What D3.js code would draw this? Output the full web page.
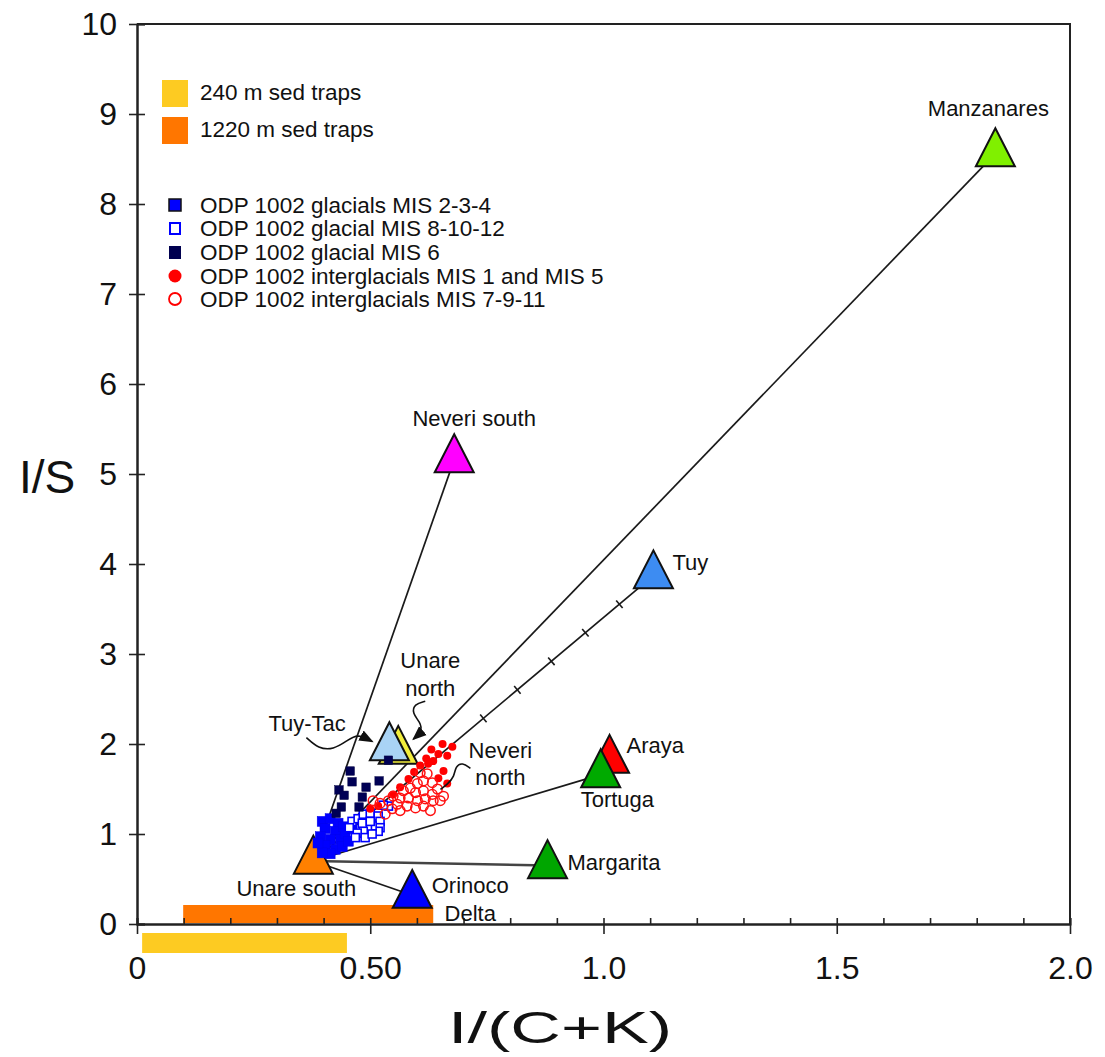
<!doctype html>
<html>
<head>
<meta charset="UTF-8">
<script src="https://cdnjs.cloudflare.com/ajax/libs/d3/7.8.5/d3.min.js"></script>
<style>
  body { margin: 0; background: #fff; }
  text { font-family: "Liberation Sans", Arial, Helvetica, sans-serif; fill: #111; }
</style>
</head>
<body>
<svg id="chart" width="1105" height="1057"></svg>
<script>

// ---------- data ----------
// river / coastal sources, I/(C+K) vs I/S
var sourceNames = ["Unare north", "Tuy-Tac", "Manzanares", "Neveri south", "Tuy",
                   "Araya", "Tortuga", "Margarita", "Orinoco Delta", "Unare south"];
var sourceX = [0.560, 0.541, 1.840, 0.680, 1.107, 1.013, 0.994, 0.880, 0.590, 0.378];
var sourceY = [1.92, 1.96, 8.56, 5.16, 3.87, 1.82, 1.66, 0.65, 0.32, 0.70];

// mixing lines from Unare south
var mixFrom = "Unare south";
var mixTo = ["Neveri south", "Manzanares", "Tuy", "Tortuga", "Margarita", "Orinoco Delta"];
var tuyTicks = [0.5, 0.6, 0.7, 0.8, 0.9];   // fraction of the way to Tuy

// sediment trap I/(C+K) ranges
var trapNames = ["240 m sed traps", "1220 m sed traps"];
var trapRanges = [[0.011, 0.450], [0.099, 0.635]];

// ODP 1002 samples
var glacial234 = [[0.397,1.14],[0.414,1.17],[0.431,1.12],[0.403,1.06],[0.425,1.03],[0.442,1.08],
  [0.393,0.97],[0.414,0.94],[0.436,0.94],[0.403,0.87],[0.425,0.83],[0.440,0.86],[0.414,0.78],
  [0.397,0.79],[0.446,1.01],[0.461,1.06],[0.388,0.90],[0.453,0.92]];
var glacial81012 = [[0.461,1.14],[0.474,1.17],[0.485,1.22],[0.500,1.23],[0.517,1.20],[0.521,1.14],
  [0.521,1.07],[0.517,1.03],[0.504,1.09],[0.494,1.07],[0.485,1.03],[0.472,1.01],[0.468,0.96],
  [0.489,0.96],[0.504,1.00],[0.483,1.12],[0.500,1.14],[0.539,1.31],[0.528,1.32],[0.455,1.07]];
var glacial6 = [[0.461,1.58],[0.491,1.52],[0.519,1.59],[0.433,1.49],[0.444,1.43],[0.483,1.41],
  [0.438,1.30],[0.476,1.30],[0.427,1.23],[0.539,1.82],[0.457,1.70]];
var inter15 = [[0.655,2.00],[0.676,1.97],[0.646,1.89],[0.665,1.87],[0.635,1.81],[0.624,1.78],
  [0.657,1.70],[0.646,1.62],[0.665,1.56],[0.631,1.94],[0.620,1.84],[0.607,1.76],[0.594,1.69],
  [0.582,1.61],[0.564,1.52],[0.549,1.44],[0.517,1.31],[0.500,1.28]];
var inter7911 = [[0.607,1.68],[0.622,1.67],[0.614,1.59],[0.601,1.56],[0.633,1.57],[0.586,1.51],
  [0.571,1.48],[0.597,1.46],[0.614,1.48],[0.633,1.44],[0.650,1.37],[0.635,1.37],[0.618,1.39],
  [0.601,1.37],[0.582,1.40],[0.564,1.40],[0.549,1.42],[0.539,1.37],[0.558,1.33],[0.579,1.31],
  [0.597,1.29],[0.614,1.31],[0.629,1.26],[0.564,1.26],[0.547,1.28],[0.532,1.22],[0.644,1.50],
  [0.657,1.42],[0.521,1.34],[0.506,1.37]];
var odpNames = ["ODP 1002 glacials MIS 2-3-4", "ODP 1002 glacial MIS 8-10-12", "ODP 1002 glacial MIS 6",
                "ODP 1002 interglacials MIS 1 and MIS 5", "ODP 1002 interglacials MIS 7-9-11"];

var xTickValues = [0, 0.5, 1.0, 1.5, 2.0];
var xTickLabels = ["0", "0.50", "1.0", "1.5", "2.0"];
var xMinorTicks = [0,0.1,0.2,0.3,0.4,0.5,0.6,0.7,0.8,0.9,1.0,1.1,1.2,1.3,1.4,1.5,1.6,1.7,1.8,1.9,2.0];
var yTickValues = [0,1,2,3,4,5,6,7,8,9,10];

// ---------- styles ----------
var sourceFill = {
  "Unare north": "#f2ee3c", "Tuy-Tac": "#a9d3f5", "Manzanares": "#80f000", "Neveri south": "#ff00ff",
  "Tuy": "#3d8cf2", "Araya": "#ff0000", "Tortuga": "#00aa00", "Margarita": "#00a600",
  "Orinoco Delta": "#0000ff", "Unare south": "#ff8000"
};
// label placement relative to triangle centre (px)
var labelPos = {
  "Manzanares":    {dx: -7,  dy: [-38], anchor: "middle", lines: ["Manzanares"]},
  "Neveri south":  {dx: 20,  dy: [-34], anchor: "middle", lines: ["Neveri south"]},
  "Tuy":           {dx: 19,  dy: [-6],  anchor: "start",  lines: ["Tuy"]},
  "Araya":         {dx: 17,  dy: [-7],  anchor: "start",  lines: ["Araya"]},
  "Tortuga":       {dx: -20, dy: [32],  anchor: "start",  lines: ["Tortuga"]},
  "Margarita":     {dx: 20,  dy: [4],   anchor: "start",  lines: ["Margarita"]},
  "Orinoco Delta": {dx: 58,  dy: [-2, 26], anchor: "middle", lines: ["Orinoco", "Delta"]},
  "Unare south":   {dx: -17, dy: [35],  anchor: "middle", lines: ["Unare south"]},
  "Tuy-Tac":       {dx: -121, dy: [-17], anchor: "start", lines: ["Tuy-Tac"]},
  "Unare north":   {dx: 32,  dy: [-83, -55], anchor: "middle", lines: ["Unare", "north"]}
};
var leaders = {
  "Tuy-Tac":     [[-83,-10],[-71,1],[-56,2],[-42,-7],[-32,-14],[-17,-6]],
  "Unare north": [[27,-50],[16,-47],[14,-38],[22,-29],[24,-20],[15,-12]]
};
var trapColors = ["#fdcb22", "#ff7600"];

var svg = d3.select("#chart");
var x = d3.scaleLinear().domain([0, 2]).range([137, 1070]);
var y = d3.scaleLinear().domain([0, 10]).range([924, 24]);

var src = {};
sourceNames.forEach(function(n, i) { src[n] = {name: n, x: sourceX[i], y: sourceY[i]}; });

svg.append("defs").append("marker")
  .attr("id", "arrow").attr("viewBox", "0 0 10 10").attr("refX", 9).attr("refY", 5)
  .attr("markerWidth", 9).attr("markerHeight", 9).attr("orient", "auto")
  .append("path").attr("d", "M0,1L10,5L0,9z").attr("fill", "#111");

// frame
svg.append("path")
  .attr("d", "M" + x(0) + "," + y(10) + "H" + x(2) + "V" + y(0))
  .attr("fill", "none").attr("stroke", "#222").attr("stroke-width", 2);

// sed trap bars
svg.append("rect").attr("x", x(trapRanges[0][0])).attr("width", x(trapRanges[0][1]) - x(trapRanges[0][0]))
  .attr("y", y(0) + 9).attr("height", 20).attr("fill", trapColors[0]);
svg.append("rect").attr("x", x(trapRanges[1][0])).attr("width", x(trapRanges[1][1]) - x(trapRanges[1][0]))
  .attr("y", y(0) - 19).attr("height", 18).attr("fill", trapColors[1]);

// axes
var xMinor = svg.append("g").attr("transform", "translate(0," + y(0) + ")")
  .call(d3.axisBottom(x).tickValues(xMinorTicks).tickSize(-6).tickFormat(""));
var xMajor = svg.append("g").attr("transform", "translate(0," + y(0) + ")")
  .call(d3.axisBottom(x).tickValues(xTickValues).tickSizeInner(10).tickSizeOuter(0).tickPadding(22)
    .tickFormat(function(d, i) { return xTickLabels[i]; }));
var yIn = svg.append("g").attr("transform", "translate(" + x(0) + ",0)")
  .call(d3.axisLeft(y).tickValues(yTickValues).tickSize(-8).tickFormat(""));
var yOut = svg.append("g").attr("transform", "translate(" + x(0) + ",0)")
  .call(d3.axisLeft(y).tickValues(yTickValues).tickSizeInner(8).tickSizeOuter(0).tickPadding(12));
[xMinor, xMajor, yIn, yOut].forEach(function(g) {
  g.selectAll("path.domain").attr("stroke", "#222").attr("stroke-width", 2);
  g.selectAll(".tick line").attr("stroke", "#222").attr("stroke-width", 1.6);
  g.selectAll("text").style("font-size", "32px").style("font-family", "Liberation Sans, Arial, sans-serif").attr("fill", "#111");
});

// axis titles
svg.append("text").attr("x", 47).attr("y", 493).attr("text-anchor", "middle")
  .style("font-size", "46px").text("I/S");
svg.append("text").attr("x", 560).attr("y", 1043).attr("text-anchor", "middle")
  .attr("textLength", 224).attr("lengthAdjust", "spacingAndGlyphs")
  .style("font-size", "44px").text("I/(C+K)");

// mixing lines
svg.append("g").selectAll("line").data(mixTo).enter().append("line")
  .attr("x1", x(src[mixFrom].x)).attr("y1", y(src[mixFrom].y))
  .attr("x2", function(d) { return x(src[d].x); }).attr("y2", function(d) { return y(src[d].y); })
  .attr("stroke", function(d) { return d === "Margarita" ? "#444" : "#1a1a1a"; })
  .attr("stroke-width", function(d) { return d === "Margarita" ? 2.6 : 1.7; });

// 10% ticks on the Tuy line
var ax = x(src[mixFrom].x), ay = y(src[mixFrom].y), bx = x(src["Tuy"].x), by = y(src["Tuy"].y);
var len = Math.hypot(bx - ax, by - ay), px = -(by - ay) / len, py = (bx - ax) / len;
svg.append("g").selectAll("line").data(tuyTicks).enter().append("line")
  .attr("x1", function(t) { return ax + (bx - ax) * t - px * 5; })
  .attr("y1", function(t) { return ay + (by - ay) * t - py * 5; })
  .attr("x2", function(t) { return ax + (bx - ax) * t + px * 5; })
  .attr("y2", function(t) { return ay + (by - ay) * t + py * 5; })
  .attr("stroke", "#1a1a1a").attr("stroke-width", 1.6);

// source triangles (centroid at data point)
var triW = 39, triH = 38;
function triPath(w, h) {
  return "M0," + (-2 * h / 3) + "L" + (w / 2) + "," + (h / 3) + "L" + (-w / 2) + "," + (h / 3) + "Z";
}
svg.append("g").selectAll("path").data(sourceNames).enter().append("path")
  .attr("d", triPath(triW, triH))
  .attr("transform", function(d) { return "translate(" + x(src[d].x) + "," + y(src[d].y) + ")"; })
  .attr("fill", function(d) { return sourceFill[d]; })
  .attr("stroke", "#111").attr("stroke-width", 2).attr("stroke-linejoin", "miter");

// ODP samples
var pts = svg.append("g");
function squares(data, s, fill, stroke, sw) {
  pts.append("g").selectAll("rect").data(data).enter().append("rect")
    .attr("x", function(d) { return x(d[0]) - s / 2; }).attr("y", function(d) { return y(d[1]) - s / 2; })
    .attr("width", s).attr("height", s).attr("fill", fill).attr("stroke", stroke).attr("stroke-width", sw);
}
function circles(data, r, fill, stroke, sw) {
  pts.append("g").selectAll("circle").data(data).enter().append("circle")
    .attr("cx", function(d) { return x(d[0]); }).attr("cy", function(d) { return y(d[1]); })
    .attr("r", r).attr("fill", fill).attr("stroke", stroke).attr("stroke-width", sw);
}
squares(glacial234, 10, "#0000ff", "#0000ee", 0.5);
squares(glacial81012, 8, "#fff", "#0000ff", 1.6);
squares(glacial6, 8.5, "#000055", "#000040", 0.5);
circles(inter15, 4, "#ff0000", "none", 0);
circles(inter7911, 4.8, "none", "#ff1010", 1.5);

// labels
var lab = svg.append("g");
sourceNames.forEach(function(n) {
  var p = labelPos[n];
  p.lines.forEach(function(t, i) {
    lab.append("text").attr("x", x(src[n].x) + p.dx).attr("y", y(src[n].y) + p.dy[i])
      .attr("text-anchor", p.anchor).style("font-size", "22px").text(t);
  });
});
// Neveri north label sits on the interglacial cluster
var nevX = 0.779, nevY = 1.84;
lab.append("text").attr("x", x(nevX)).attr("y", y(nevY)).attr("text-anchor", "middle").style("font-size", "22px").text("Neveri");
lab.append("text").attr("x", x(nevX)).attr("y", y(nevY) + 27).attr("text-anchor", "middle").style("font-size", "22px").text("north");
var nevLeader = [[-30,10],[-38,4],[-45,8],[-46,18],[-53,26],[-60,31]];

var curve = d3.line().curve(d3.curveBasis);
Object.keys(leaders).forEach(function(n) {
  var cx = x(src[n].x), cy = y(src[n].y);
  lab.append("path").attr("d", curve(leaders[n].map(function(d) { return [cx + d[0], cy + d[1]]; })))
    .attr("fill", "none").attr("stroke", "#111").attr("stroke-width", 1.6).attr("marker-end", "url(#arrow)");
});
lab.append("path").attr("d", curve(nevLeader.map(function(d) { return [x(nevX) + d[0], y(nevY) + d[1]]; })))
  .attr("fill", "none").attr("stroke", "#111").attr("stroke-width", 1.6);

// legend: sed traps
var leg = svg.append("g");
trapNames.forEach(function(n, i) {
  leg.append("rect").attr("x", 162).attr("y", 80 + i * 37).attr("width", 26).attr("height", 27).attr("fill", trapColors[i]);
  leg.append("text").attr("x", 200).attr("y", 100 + i * 37).style("font-size", "22.5px").text(n);
});
// legend: ODP 1002
var ly = [205, 228, 252, 276, 299];
odpNames.forEach(function(n, i) {
  var cy = ly[i];
  if (i === 0) leg.append("rect").attr("x", 169).attr("y", cy - 6).attr("width", 12).attr("height", 12).attr("fill", "#0000ff").attr("stroke", "#111").attr("stroke-width", 1.5);
  if (i === 1) leg.append("rect").attr("x", 170).attr("y", cy - 5).attr("width", 10).attr("height", 11).attr("fill", "#fff").attr("stroke", "#0000ff").attr("stroke-width", 2);
  if (i === 2) leg.append("rect").attr("x", 169).attr("y", cy - 6).attr("width", 12).attr("height", 13).attr("fill", "#000050");
  if (i === 3) leg.append("circle").attr("cx", 175).attr("cy", cy).attr("r", 6.5).attr("fill", "#ff0000");
  if (i === 4) leg.append("circle").attr("cx", 175).attr("cy", cy).attr("r", 6).attr("fill", "none").attr("stroke", "#ff0000").attr("stroke-width", 1.8);
  leg.append("text").attr("x", 200).attr("y", cy + 8).style("font-size", "22.5px").text(n);
});

</script>
</body>
</html>
